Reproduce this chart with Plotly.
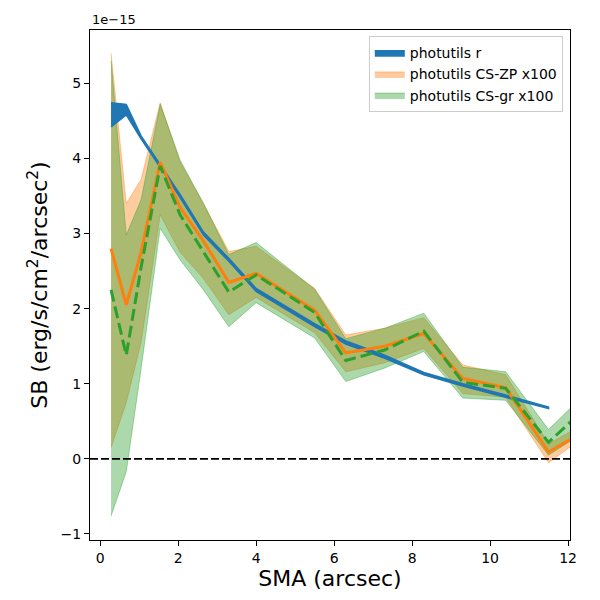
import plotly.graph_objects as go

# SMA sample points (arcsec)
sma = [0.28, 0.67, 1.05, 1.54, 2.05, 2.65, 3.3, 4.0, 5.5, 6.3, 7.3, 8.3, 9.3, 10.4, 11.5, 12.7]

# photutils r (units of 1e-15)
r_hi = [4.74, 4.72, 4.30, 3.92, 3.52, 3.02, 2.67, 2.27, 1.80, 1.57, 1.38, 1.15, 1.00, 0.85, 0.69]
r_lo = [4.42, 4.58, 4.26, 3.88, 3.48, 2.98, 2.63, 2.23, 1.76, 1.53, 1.34, 1.12, 0.97, 0.82, 0.67]

# photutils CS-ZP x100
zp = [2.80, 2.05, 2.75, 3.95, 3.35, 2.90, 2.35, 2.47, 1.98, 1.41, 1.50, 1.67, 1.07, 0.95, 0.09, 0.45]
zp_hi = [5.40, 3.40, 3.72, 4.74, 3.95, 3.40, 2.76, 2.83, 2.27, 1.65, 1.74, 1.88, 1.25, 1.12, 0.20, 0.55]
zp_lo = [0.15, 0.75, 1.55, 3.25, 2.75, 2.40, 1.92, 2.15, 1.68, 1.16, 1.28, 1.47, 0.87, 0.82, -0.05, 0.40]

# photutils CS-gr x100
gr = [2.25, 1.38, 2.55, 3.90, 3.25, 2.75, 2.22, 2.45, 1.95, 1.31, 1.45, 1.70, 1.02, 0.94, 0.22, 0.80]
gr_hi = [5.30, 2.98, 3.45, 4.72, 3.98, 3.40, 2.72, 2.88, 2.26, 1.60, 1.74, 1.94, 1.22, 1.16, 0.39, 1.00]
gr_lo = [-0.76, -0.17, 1.20, 3.07, 2.65, 2.25, 1.76, 2.08, 1.61, 1.03, 1.21, 1.43, 0.81, 0.78, 0.05, 0.45]

BLUE = "#1f77b4"
ORANGE = "#ff7f0e"
GREEN = "#2ca02c"


def band(x, hi, lo):
    return list(x) + list(x[::-1]), list(hi) + list(lo[::-1])


fig = go.Figure()

bx, by = band(sma, zp_hi, zp_lo)
fig.add_trace(go.Scatter(x=bx, y=by, fill="toself", fillcolor="rgba(255,127,14,0.4)",
                         line=dict(color="rgba(255,127,14,0.4)", width=1), mode="lines",
                         name="photutils CS-ZP x100", legendrank=2))

bx, by = band(sma, gr_hi, gr_lo)
fig.add_trace(go.Scatter(x=bx, y=by, fill="toself", fillcolor="rgba(44,160,44,0.4)",
                         line=dict(color="rgba(44,160,44,0.4)", width=1), mode="lines",
                         name="photutils CS-gr x100", legendrank=3))

bx, by = band(sma[:len(r_hi)], r_hi, r_lo)
fig.add_trace(go.Scatter(x=bx, y=by, fill="toself", fillcolor=BLUE,
                         line=dict(color=BLUE, width=1.5), mode="lines",
                         name="photutils r", legendrank=1))

fig.add_trace(go.Scatter(x=sma, y=zp, mode="lines", line=dict(color=ORANGE, width=3),
                         showlegend=False))
fig.add_trace(go.Scatter(x=sma, y=gr, mode="lines",
                         line=dict(color=GREEN, width=3, dash="12px,5px"),
                         showlegend=False))

# zero line
fig.add_hline(y=0, line=dict(color="black", width=1.8, dash="8px,3px"))

axis_style = dict(
    showline=True, linecolor="black", linewidth=1, mirror=True,
    ticks="outside", ticklen=5, tickwidth=1, tickcolor="black",
    showgrid=False, zeroline=False, automargin=False,
    tickfont=dict(family="DejaVu Sans", size=14, color="black"),
)

fig.update_xaxes(range=[-0.26, 12.05], tickvals=[0, 2, 4, 6, 8, 10, 12],
                 title=dict(text="SMA (arcsec)", font=dict(family="DejaVu Sans", size=22, color="black"),
                            standoff=4),
                 **axis_style)
fig.update_yaxes(range=[-1.08, 5.71], tickvals=[-1, 0, 1, 2, 3, 4, 5],
                 ticktext=["\u22121", "0", "1", "2", "3", "4", "5"],
                 title=dict(text="SB (erg/s/cm<sup>2</sup>/arcsec<sup>2</sup>)",
                            font=dict(family="DejaVu Sans", size=22, color="black"),
                            standoff=6),
                 **axis_style)

fig.add_annotation(text="1e\u221215", xref="paper", yref="paper", x=0, y=1,
                   xanchor="left", yanchor="bottom", yshift=1, showarrow=False,
                   font=dict(family="DejaVu Sans", size=13, color="black"))

fig.update_layout(
    width=600, height=600,
    margin=dict(l=82, r=38, t=22, b=68),
    plot_bgcolor="white", paper_bgcolor="white",
    legend=dict(x=0.985, y=0.988, xanchor="right", yanchor="top",
                bgcolor="white", bordercolor="#cccccc", borderwidth=1,
                tracegroupgap=0,
                font=dict(family="DejaVu Sans", size=14, color="black")),
)

fig.write_html("out.html")
